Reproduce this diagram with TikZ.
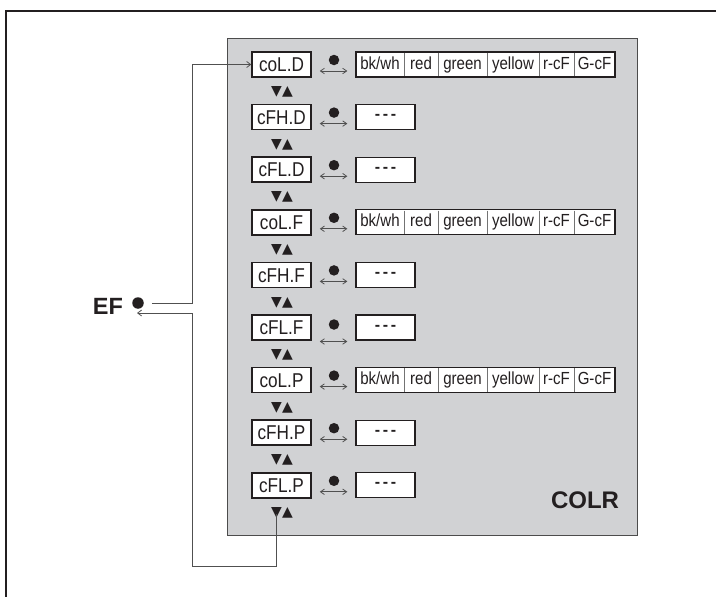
\documentclass[tikz,border=0pt]{standalone}
\usepackage{fontspec}
\setmainfont{Liberation Sans}
\newfontfamily\narrowfont[FakeStretch=0.86]{Liberation Sans}
\newfontfamily\symfont{DejaVu Sans}
\usetikzlibrary{arrows.meta,calc}
\definecolor{panelgrey}{HTML}{D1D2D4}
\definecolor{linegrey}{HTML}{505050}
\definecolor{ink}{HTML}{231F20}
\tikzset{
  namebox/.style={draw=ink, line width=1.5pt, fill=white, minimum width=59pt, minimum height=25pt, inner sep=0pt,
    font=\narrowfont\fontsize{20}{20}\selectfont, text=ink, text height=14.3pt, text depth=0pt},
  valbox/.style={draw=ink, line width=1.3pt, fill=white, minimum height=25pt, inner sep=0pt, text=ink},
  opttext/.style={font=\narrowfont\fontsize{17.5}{17.5}\selectfont, text=ink, inner sep=0pt, text height=12.8pt, text depth=3.7pt},
  divider/.style={draw=black!55, line width=0.8pt},
  dotmark/.style={circle, fill=ink, minimum size=10.5pt, inner sep=0pt},
  conn/.style={draw=linegrey, line width=1pt},
  tip/.style={-{Straight Barb[length=4pt,width=6pt,line width=0.8pt]}},
  dbl/.style={draw=linegrey, line width=0.8pt, {Straight Barb[length=4pt,width=5.5pt]}-{Straight Barb[length=4pt,width=5.5pt]}},
  updown/.style={font=\symfont\fontsize{14}{14}\selectfont, text=ink, inner sep=0pt},
  bigtxt/.style={font=\bfseries\fontsize{23.5}{23.5}\selectfont, text=ink, inner sep=0pt}
}
\begin{document}
\begin{tikzpicture}[x=1pt,y=-1pt]
\useasboundingbox (0,0) rectangle (716,597);
% outer frame
\draw[draw=ink, line width=2pt] (6,597) -- (6,11) -- (716,11);
% panel
\draw[fill=panelgrey, draw=black!70, line width=1pt] (227,38) rectangle (637,535);
\node[bigtxt, font=\bfseries\fontsize{24}{24}\selectfont] (colr) at (585,500) {COLR};
% rows
\foreach \name/\kind/\dy/\ay [count=\i from 0] in {coL.D/c/-4.5/6.5, cFH.D/d/-4.5/6.5, cFL.D/d/-4.5/6.5, coL.F/c/-4.5/6.5, cFH.F/d/-4.5/6.5, cFL.F/d/-3/14, coL.P/c/-4.5/6.5, cFH.P/d/-4.5/6.5, cFL.P/d/-4.5/6.5}{
  \pgfmathsetmacro{\yc}{64.5+\i*52.6}
  \node[namebox] (n\i) at (281.5,\yc) {\name};
  \node[dotmark] (d\i) at (334,\yc+\dy) {};
  \node[updown] (t\i) at (282,\yc+27.5) {▼▲};
  \if c\kind
    \node[valbox, minimum width=259pt] (v\i) at (485.5,\yc) {};
    \foreach \xx in {404,438,487,539,574}{
      \draw[divider] (\xx,\yc-11.8) -- (\xx,\yc+11.8);
    }
    \node[opttext] at (380,\yc) {bk/wh};
    \node[opttext] at (421,\yc) {red};
    \node[opttext] at (462.5,\yc) {green};
    \node[opttext] at (513,\yc) {yellow};
    \node[opttext] at (556.5,\yc) {r-cF};
    \node[opttext] at (594.5,\yc) {G-cF};
  \else
    \node[valbox, minimum width=59pt, font=\bfseries\fontsize{16}{16}\selectfont] (v\i) at (385.5,\yc) {-\,-\,-};
  \fi
  \draw[dbl] ([shift={(8,\ay)}]n\i.east) -- ([shift={(-8,\ay)}]v\i.west);
}
% EF
\node[bigtxt] (ef) at (108,306.5) {EF};
\node[dotmark, minimum size=11.5pt] (efdot) at (138,303) {};
\coordinate (c1) at (192,303);
\coordinate (c2) at (192,64.5);
\draw[conn, tip] ([xshift=8pt]efdot.east) -- (c1) -- (c2) -- (n0.west);
\coordinate (s0) at (276,514);
\coordinate (c3) at (276,566);
\coordinate (c4) at (192,566);
\coordinate (c5) at (192,313);
\coordinate (c6) at (137,313);
\draw[conn, tip] (s0) -- (c3) -- (c4) -- (c5) -- (c6);
\end{tikzpicture}
\end{document}
